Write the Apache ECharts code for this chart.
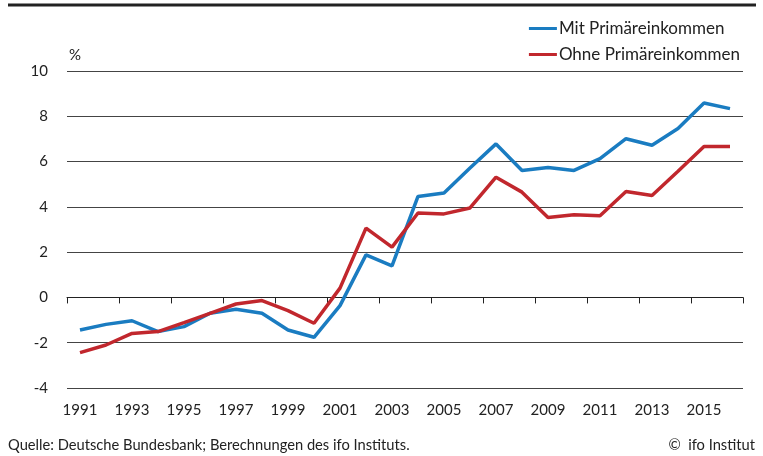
<!DOCTYPE html>
<html>
<head>
<meta charset="utf-8">
<script src="https://cdn.jsdelivr.net/npm/echarts@6/dist/echarts.min.js"></script>
<style>
  html, body { margin: 0; padding: 0; background: #fff; }
  #chart { width: 763px; height: 456px; }
</style>
</head>
<body>
<div id="chart"></div>
<script>
'use strict';

// Jahre
const years = ['1991', '1992', '1993', '1994', '1995', '1996', '1997', '1998', '1999', '2000',
  '2001', '2002', '2003', '2004', '2005', '2006', '2007', '2008', '2009', '2010',
  '2011', '2012', '2013', '2014', '2015', '2016'];

// Leistungsbilanzsaldo in % des BIP
const mitPrimaer = [-1.44, -1.19, -1.03, -1.51, -1.29, -0.70, -0.52, -0.70, -1.44, -1.76,
  -0.36, 1.88, 1.39, 4.46, 4.61, 5.72, 6.78, 5.61, 5.74, 5.61,
  6.13, 7.01, 6.72, 7.46, 8.59, 8.34];
const ohnePrimaer = [-2.44, -2.10, -1.59, -1.51, -1.11, -0.70, -0.29, -0.14, -0.58, -1.14,
  0.41, 3.06, 2.22, 3.73, 3.69, 3.95, 5.31, 4.65, 3.53, 3.65,
  3.61, 4.68, 4.50, 5.57, 6.67, 6.67];

const seriesNames = ['Mit Primäreinkommen', 'Ohne Primäreinkommen'];
const quelle = 'Quelle: Deutsche Bundesbank; Berechnungen des ifo Instituts.';
const copyright = '©  ifo Institut';

const font = 'Lato, "Noto Sans", sans-serif';
const chart = echarts.init(document.getElementById('chart'), null, { renderer: 'canvas' });

const option = {
  animation: false,
  backgroundColor: '#fff',
  textStyle: { fontFamily: font, color: '#222' },
  grid: { left: 67, right: 20, top: 71, bottom: 68 },
  legend: {
    orient: 'vertical',
    right: 18,
    top: 15,
    icon: 'rect',
    itemWidth: 28,
    itemHeight: 3,
    itemGap: 9,
    textStyle: { fontFamily: font, fontSize: 17, color: '#222', padding: [0, 0, 0, -3] },
    data: seriesNames
  },
  xAxis: {
    type: 'category',
    data: years,
    boundaryGap: true,
    axisLine: { show: true, lineStyle: { color: '#222', width: 1 } },
    axisTick: { show: true, length: 6, inside: false, lineStyle: { color: '#222' } },
    axisLabel: { interval: 1, margin: 15, fontSize: 15, color: '#222', fontFamily: font },
    splitLine: { show: false }
  },
  yAxis: {
    type: 'value',
    min: -4,
    max: 10,
    interval: 2,
    name: '%',
    nameLocation: 'end',
    nameGap: 8,
    nameTextStyle: { fontSize: 15, color: '#222', align: 'left', fontFamily: font, padding: [0, 0, 0, 2] },
    axisLine: { show: false },
    axisTick: { show: false },
    axisLabel: { margin: 19, fontSize: 15, color: '#222', fontFamily: font },
    splitLine: { show: true, lineStyle: { color: '#444', width: 1 } }
  },
  graphic: [
    {
      type: 'line',
      shape: { x1: 8, y1: 5, x2: 756, y2: 5 },
      style: { stroke: '#222', lineWidth: 3 }
    },
    {
      type: 'text',
      left: 8,
      top: 438,
      style: { text: quelle, fontFamily: font, fontSize: 14.7, fill: '#222' }
    },
    {
      type: 'text',
      right: 8,
      top: 438,
      style: { text: copyright, fontFamily: font, fontSize: 14.7, fill: '#222' }
    }
  ],
  series: [
    {
      name: seriesNames[0],
      type: 'line',
      data: mitPrimaer,
      symbol: 'none',
      lineStyle: { color: '#1a7cc1', width: 3.5 },
      itemStyle: { color: '#1a7cc1' }
    },
    {
      name: seriesNames[1],
      type: 'line',
      data: ohnePrimaer,
      symbol: 'none',
      lineStyle: { color: '#c1272d', width: 3.5 },
      itemStyle: { color: '#c1272d' }
    }
  ]
};

option && chart.setOption(option);
</script>
</body>
</html>
